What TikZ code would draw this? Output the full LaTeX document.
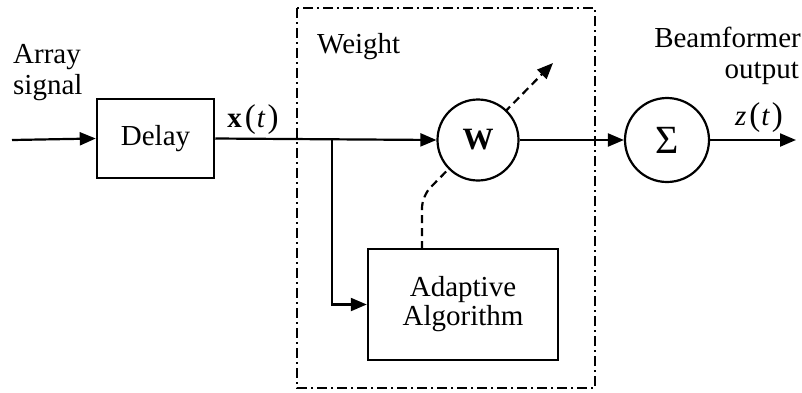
\documentclass[tikz,border=0pt]{standalone}
\usepackage{fontspec}
\setmainfont{Liberation Serif}
\usetikzlibrary{arrows.meta,backgrounds}
\begin{document}
\begin{tikzpicture}[x=1pt,y=-1pt,
  font=\fontsize{29}{31}\selectfont,
  conn/.style={line width=2.2pt,-{Triangle[length=16pt,width=13pt]}},
  blockbox/.style={draw,line width=2.5pt,inner sep=0pt,align=center,fill=white},
  circbox/.style={draw,circle,line width=2.2pt,minimum size=81pt,inner sep=0pt,fill=white},
  frameline/.style={line width=2.5pt,dash pattern=on 10pt off 4pt on 2pt off 4pt},
  dashline/.style={line width=2.2pt,dash pattern=on 8pt off 5pt,-{Triangle[length=16pt,width=13pt]}},
  lbl/.style={inner sep=0pt}]
\useasboundingbox (0,0) rectangle (802,392);
% nodes
\node[blockbox,minimum width=117pt,minimum height=79pt] (delay) at (155.5,138.5) {Delay};
\node[blockbox,minimum width=190pt,minimum height=111pt] (adapt) at (463,304.5) {Adaptive\\[-2pt]Algorithm};
\node[circbox] (w) at (478,140) {\fontsize{31}{31}\selectfont\textbf{W}};
\node[circbox,minimum size=84pt] (sum) at (667,140) {\fontsize{40}{40}\selectfont Σ};
\coordinate (in) at (12,140);
\coordinate (out) at (796,140);
\coordinate (br) at (332,140);
\coordinate (ds) at (422,249);
\coordinate (bend) at (422,196);
\coordinate (tip) at (553,63);
% labels
\node[lbl,anchor=base west] (arr1) at (13,63) {Array};
\node[lbl,anchor=base west] (arr2) at (13,94) {signal};
\node[lbl,anchor=base] (xt) at (253,127) {\textbf{x}\kern3pt{\fontsize{33}{33}\selectfont(}\kern1pt\textit{t}\kern2pt{\fontsize{33}{33}\selectfont)}};
\node[lbl,anchor=base west] (wt) at (317,53) {Weight};
\node[lbl,anchor=base east] (bf1) at (801,47) {Beamformer};
\node[lbl,anchor=base east] (bf2) at (799,78) {output};
\node[lbl,anchor=base] (zt) at (759,125) {\textit{z}\kern3pt{\fontsize{33}{33}\selectfont(}\kern1pt\textit{t}\kern2pt{\fontsize{33}{33}\selectfont)}};
% background
\begin{pgfonlayer}{background}
\draw[frameline] (297,8) rectangle (595,388);
\draw[dashline,rounded corners=12pt] (ds) -- (bend) -- (tip);
\end{pgfonlayer}
% connectors
\draw[conn] (in) -- (delay.west);
\draw[conn] (delay.east) -- (w.west);
\draw[conn] (br) |- (adapt.west);
\draw[conn] (w.east) -- (sum.west);
\draw[conn] (sum.east) -- (out);
\end{tikzpicture}
\end{document}
